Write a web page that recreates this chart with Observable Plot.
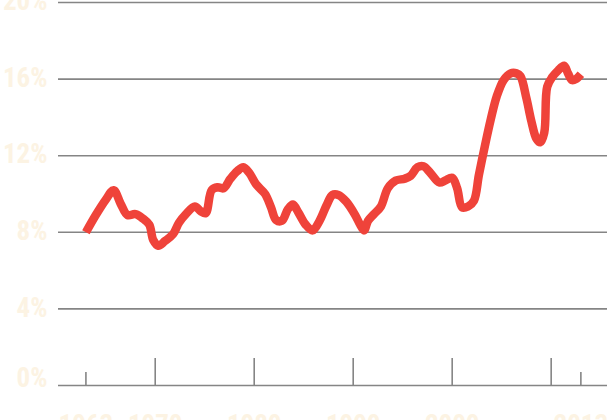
<!DOCTYPE html>
<html>
<head>
<meta charset="utf-8">
<script src="https://cdn.jsdelivr.net/npm/d3@7"></script>
<script src="https://cdn.jsdelivr.net/npm/@observablehq/plot@0.6"></script>
<style>
  html, body { margin: 0; padding: 0; background: #ffffff; }
  #chart svg { display: block; }
</style>
</head>
<body>
<div id="chart"></div>
<script>
const years = [
  1963.0, 1964.0, 1965.0, 1965.8, 1966.5, 1967.2, 1968.0, 1968.8, 1969.4, 1969.8,
  1970.3, 1971.0, 1971.8, 1972.4, 1973.1, 1974.0, 1974.6, 1975.1, 1975.7, 1976.3,
  1976.9, 1977.6, 1978.3, 1978.9, 1979.5, 1980.2, 1981.1, 1981.7, 1982.2, 1982.8,
  1983.4, 1983.9, 1984.5, 1985.2, 1985.9, 1986.6, 1987.3, 1987.9, 1988.5, 1989.3,
  1990.2, 1990.7, 1991.1, 1991.5, 1992.1, 1992.8, 1993.5, 1994.3, 1995.2, 1995.8,
  1996.5, 1997.1, 1997.8, 1998.7, 1999.3, 2000.0, 2000.5, 2001.0, 2001.6, 2002.2,
  2002.7, 2003.3, 2003.9, 2004.5, 2005.2, 2005.9, 2006.5, 2006.9, 2007.5, 2008.0,
  2008.5, 2008.9, 2009.3, 2009.6, 2010.1, 2010.7, 2011.3, 2011.7, 2012.1, 2012.5,
  2013.0
];
const rates = [
  8.0, 8.9, 9.7, 10.2, 9.5, 8.9, 8.95, 8.7, 8.4, 7.6,
  7.3, 7.55, 7.9, 8.5, 8.95, 9.35, 9.1, 9.0, 10.2, 10.35,
  10.3, 10.8, 11.2, 11.4, 11.1, 10.5, 10.0, 9.3, 8.65, 8.6,
  9.2, 9.45, 9.0, 8.4, 8.1, 8.6, 9.4, 9.95, 9.95, 9.6,
  8.9, 8.4, 8.1, 8.6, 8.95, 9.35, 10.3, 10.7, 10.8, 10.95,
  11.4, 11.45, 11.1, 10.6, 10.7, 10.85, 10.3, 9.3, 9.35, 9.65,
  11.0, 12.5, 13.9, 15.1, 15.95, 16.3, 16.3, 16.15, 15.0, 13.8,
  12.9, 12.7, 13.2, 15.6, 16.1, 16.45, 16.7, 16.3, 15.95, 16.0,
  16.25
];
const yTicks = [0, 4, 8, 12, 16, 20];
const majorYears = [1970, 1980, 1990, 2000, 2010];
const minorYears = [1963, 2013];
const xLabels = [1963, 1970, 1980, 1990, 2000, 2013];

const data = years.map((y, i) => ({year: y, rate: rates[i]}));

const labelColor = "#fcf3e3";
const font = "'Liberation Sans Narrow', 'Roboto Condensed', 'DejaVu Sans Condensed', 'Liberation Sans', sans-serif";

const chart = Plot.plot({
  width: 607,
  height: 420,
  marginLeft: 58,
  marginRight: 0,
  marginTop: 2,
  marginBottom: 35,
  style: {background: "#ffffff", fontFamily: font, overflow: "visible"},
  x: {domain: [1960.23, 2015.69], axis: null},
  y: {domain: [0, 20], axis: null},
  marks: [
    Plot.ruleY(yTicks, {y: d => d, stroke: "#858585", strokeWidth: 1.6}),
    Plot.ruleX(majorYears, {x: d => d, y1: 0, y2: 1.41, stroke: "#858585", strokeWidth: 1.6}),
    Plot.ruleX(minorYears, {x: d => d, y1: 0, y2: 0.68, stroke: "#858585", strokeWidth: 1.6}),
    Plot.text(yTicks.filter(d => d !== 0), {
      y: d => d, text: d => d + "%", frameAnchor: "left", textAnchor: "end",
      dx: -11, dy: -1, fill: labelColor, fontSize: 27, fontWeight: "bold"
    }),
    Plot.text(yTicks.filter(d => d === 0), {
      y: d => d, text: d => d + "%", frameAnchor: "left", textAnchor: "end",
      dx: -11, dy: -7, fill: labelColor, fontSize: 27, fontWeight: "bold"
    }),
    Plot.text(xLabels, {
      x: d => d, y: 0, text: d => String(d), lineAnchor: "top", textAnchor: "middle",
      dy: 29, fill: labelColor, fontSize: 27, fontWeight: "bold"
    }),
    Plot.line(data, {
      x: "year", y: "rate", curve: "catmull-rom", stroke: "#ef433a",
      strokeWidth: 8.5, strokeLinejoin: "round", strokeLinecap: "butt"
    })
  ]
});
document.getElementById("chart").appendChild(chart);
</script>
</body>
</html>
